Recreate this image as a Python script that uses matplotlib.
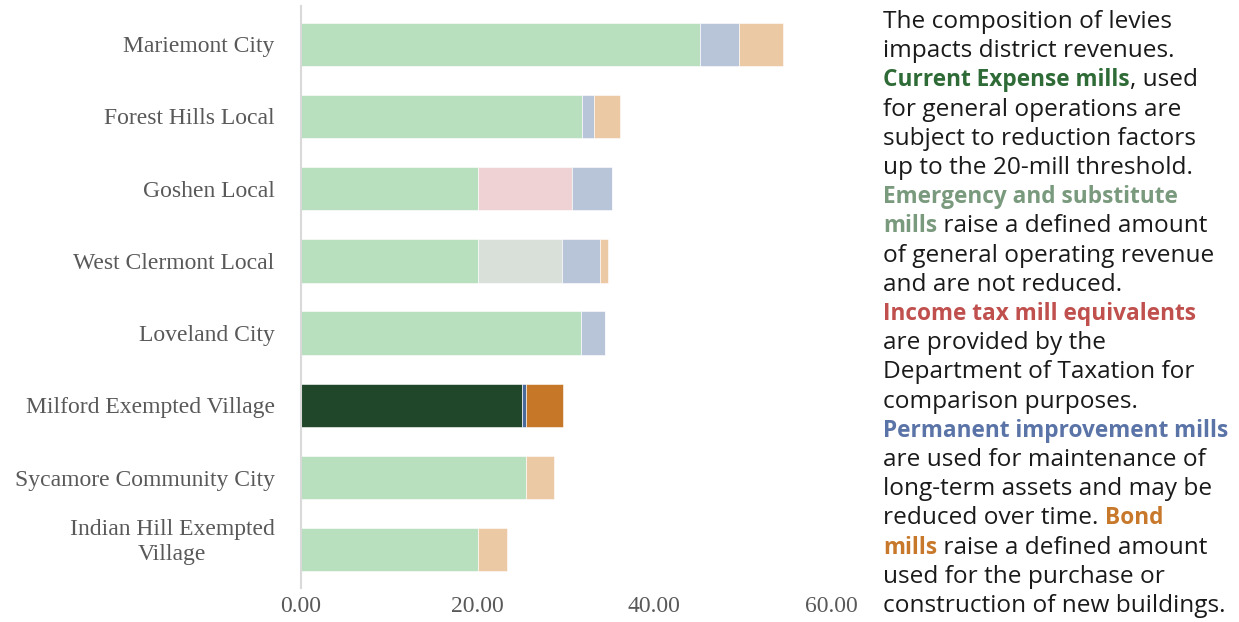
import numpy as np
import matplotlib
matplotlib.use("Agg")
import matplotlib.pyplot as plt
import matplotlib.transforms as mtransforms

# data (mills by levy type)
districts = ["Mariemont City", "Forest Hills Local", "Goshen Local",
             "West Clermont Local", "Loveland City", "Milford Exempted Village",
             "Sycamore Community City", "Indian Hill Exempted\nVillage"]
current_expense = [45.2, 31.8, 20.0, 20.0, 31.7, 25.0, 25.5, 20.0]
emergency = [0, 0, 0, 9.6, 0, 0, 0, 0]
income_tax = [0, 0, 10.7, 0, 0, 0, 0, 0]
permanent = [4.4, 1.4, 4.5, 4.2, 2.7, 0.45, 0, 0]
bond = [5.0, 2.9, 0, 1.0, 0, 4.25, 3.1, 3.3]
highlight = "Milford Exempted Village"

series = [current_expense, emergency, income_tax, permanent, bond]
light = ["#b8dfbe", "#d9e0d9", "#efd3d4", "#b8c5d8", "#ecc9a5"]
dark = ["#20472a", "#7a9a7e", "#c0504d", "#4a6a9c", "#c67828"]

fig = plt.figure(figsize=(12.39, 6.22), dpi=100)
ax = fig.add_axes([301/1239, 1 - 588/622, 530/1239, 582/622])

y = np.arange(len(districts))
left = np.zeros(len(districts))
for vals, lc, dc in zip(series, light, dark):
    vals = np.array(vals, dtype=float)
    cols = [dc if d == highlight else lc for d in districts]
    ax.barh(y, vals, left=left, height=0.6, color=cols, edgecolor="white", linewidth=0.4)
    left += vals

ax.set_xlim(0, 60)
ax.set_ylim(len(districts) - 0.47, -0.53)
ax.set_xticks([0, 20, 40, 60])
ax.set_xticklabels(["0.00", "20.00", "40.00", "60.00"])
ax.set_yticks(y)
ax.set_yticklabels(districts, multialignment="center")
for lab in ax.get_xticklabels() + ax.get_yticklabels():
    lab.set_fontfamily("Liberation Serif")
    lab.set_fontsize(17)
    lab.set_color("#595959")
ax.tick_params(axis="both", length=0)
ax.tick_params(axis="y", pad=19)
ax.tick_params(axis="x", pad=6)
# two-line label sits a bit higher in the original
last = ax.get_yticklabels()[-1]
last.set_linespacing(1.25)
last.set_transform(last.get_transform() + mtransforms.ScaledTranslation(0, 12/100, fig.dpi_scale_trans))
for s in ["top", "right", "bottom"]:
    ax.spines[s].set_visible(False)
ax.spines["left"].set_color("#d9d9d9")
ax.spines["left"].set_linewidth(1.5)

# explanatory text with coloured keywords
K = "#1a1a1a"
lines = [
    [("The composition of levies", K, False)],
    [("impacts district revenues.", K, False)],
    [("Current Expense mills", "#2e6b36", True), (", used", K, False)],
    [("for general operations are", K, False)],
    [("subject to reduction factors", K, False)],
    [("up to the 20-mill threshold.", K, False)],
    [("Emergency and substitute", "#7a9a7e", True)],
    [("mills", "#7a9a7e", True), (" raise a defined amount", K, False)],
    [("of general operating revenue", K, False)],
    [("and are not reduced.", K, False)],
    [("Income tax mill equivalents", "#c0504d", True)],
    [("are provided by the", K, False)],
    [("Department of Taxation for", K, False)],
    [("comparison purposes.", K, False)],
    [("Permanent improvement mills", "#5b74a8", True)],
    [("are used for maintenance of", K, False)],
    [("long-term assets and may be", K, False)],
    [("reduced over time. ", K, False), ("Bond", "#c8782a", True)],
    [("mills", "#c8782a", True), (" raise a defined amount", K, False)],
    [("used for the purchase or", K, False)],
    [("construction of new buildings.", K, False)],
]
font = "Open Sans"
fs = 17.6
fs_bold = 16.3
r = fig.canvas.get_renderer()


def width_px(s, bold):
    t = fig.text(0, 0, s.replace(" ", "\u00a0"), fontsize=fs_bold if bold else fs,
                 family=font, fontweight="bold" if bold else "normal")
    w = t.get_window_extent(r).width
    t.remove()
    return w


x0 = 883
base0 = 28
step = 29.2
for i, segs in enumerate(lines):
    x = x0
    yb = 622 - (base0 + i * step)
    for s, c, b in segs:
        fig.text(x / 1239, yb / 622, s.replace(" ", "\u00a0"), fontsize=fs_bold if b else fs,
                 family=font, fontweight="bold" if b else "normal", color=c,
                 va="baseline", ha="left")
        x += width_px(s, b)

fig.savefig("out.png", dpi=100)
